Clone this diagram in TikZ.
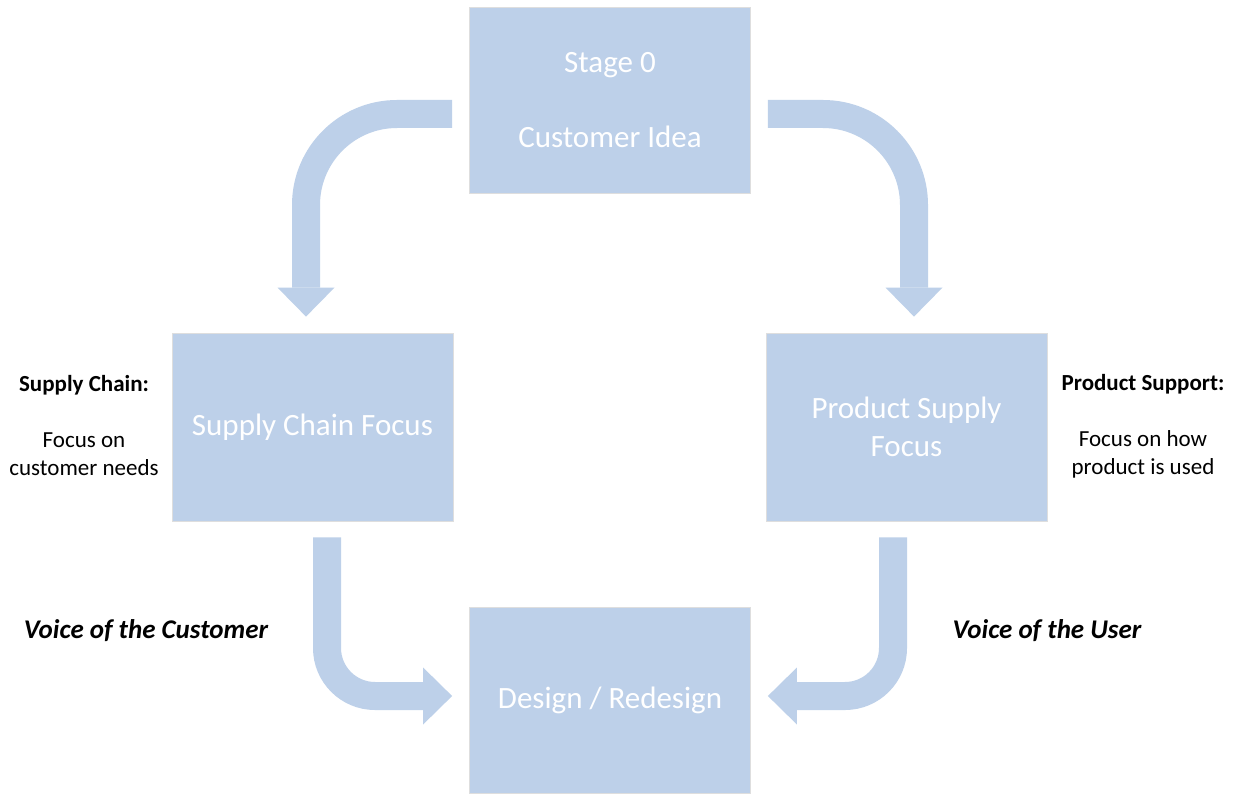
\documentclass[tikz,border=0pt]{standalone}
\usepackage{fontspec}
\setmainfont{Carlito}
\usetikzlibrary{arrows.meta,calc}
\definecolor{boxblue}{RGB}{189,208,233}
\tikzset{
  box/.style={fill=boxblue, draw=black!13, line width=0.8pt, minimum width=281pt, inner sep=0pt,
    text=white, align=center, font=\fontsize{31}{37.8}\selectfont},
  barrow/.style={draw=boxblue, line width=28pt,
    -{Triangle[width=57pt,length=29pt,line width=0pt]}},
  side/.style={align=center, font=\fontsize{23}{28}\selectfont, text=black},
  voice/.style={font=\fontsize{27}{32}\selectfont\bfseries\itshape, text=black}
}
\begin{document}
\begin{tikzpicture}[x=1pt,y=-1pt]
\useasboundingbox (0,0) rectangle (1233,794);
\fill[white] (0,0) rectangle (1233,794);
\node[box, minimum height=186pt] (top) at (610,100) {Stage 0\\[37.8pt]Customer Idea};
\node[box, minimum height=188pt] (left) at (312.5,427) {Supply Chain Focus};
\node[box, minimum height=188pt] (right) at (906.5,427) {Product Supply\\Focus};
\node[box, minimum height=186pt] (bottom) at (610,700) {Design / Redesign};

\coordinate (s1) at ($(top.west)+(-17,14)$);
\coordinate (e1) at ($(left.north)+(-6.5,-16)$);
\coordinate (s2) at ($(top.east)+(17,14)$);
\coordinate (e2) at ($(right.north)+(7.5,-16)$);
\coordinate (s3) at ($(left.south)+(14.5,16)$);
\coordinate (e3) at ($(bottom.west)+(-17,-4)$);
\coordinate (s4) at ($(right.south)+(-13.5,16)$);
\coordinate (e4) at ($(bottom.east)+(17,-4)$);

\draw[barrow, rounded corners=91pt] (s1) -| (e1);
\draw[barrow, rounded corners=91pt] (s2) -| (e2);
\draw[barrow, rounded corners=48pt] (s3) |- (e3);
\draw[barrow, rounded corners=48pt] (s4) |- (e4);

\node[side] (ltext) at (84,426) {\textbf{Supply Chain:}\\[28pt]Focus on\\customer needs};
\node[side] (rtext) at (1143,426) {\textbf{Product Support:}\\[28pt]Focus on how\\product is used};
\node[voice] (lvoice) at (146,631) {Voice of the Customer};
\node[voice] (rvoice) at (1047,631) {Voice of the User};
\end{tikzpicture}
\end{document}
